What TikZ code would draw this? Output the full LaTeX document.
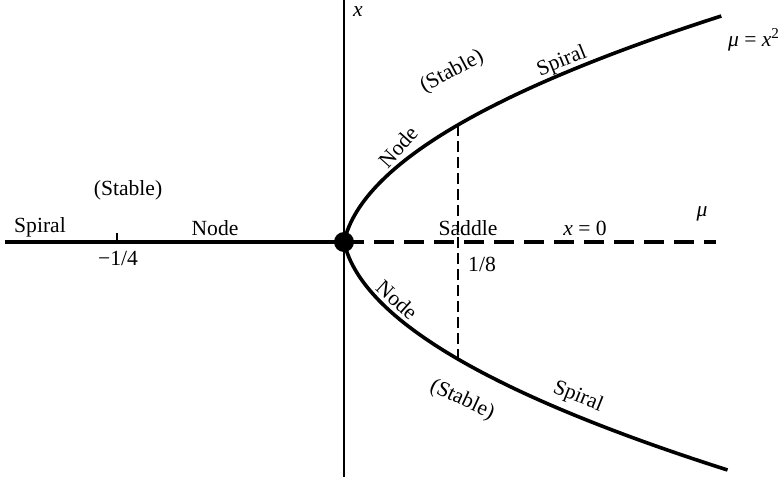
\documentclass[tikz,border=0pt]{standalone}
\usepackage{fontspec}
\setmainfont{Liberation Serif}
\usetikzlibrary{positioning}

\begin{document}
\begin{tikzpicture}[x=0.5pt, y=-0.5pt,
      every node/.style={font=\fontsize{10.8}{12}\selectfont, inner sep=1pt},
      branch/.style={line width=1.8pt},
      axis/.style={line width=0.8pt},
      unstab/.style={line width=1.6pt, dash pattern=on 10pt off 5pt},
      guide/.style={line width=0.6pt, dash pattern=on 5.5pt off 2.5pt}]
    \useasboundingbox (0,0) rectangle (778,477);
    \coordinate (O) at (344,242);
    \coordinate (top) at (344,0);
    \coordinate (bot) at (344,477);
    \coordinate (left) at (5,242);
    \coordinate (right) at (716,242);
    \coordinate (qtick) at (117,242);
    \coordinate (sadtop) at (458,125);
    \coordinate (sadbot) at (458,359);
    % axes and the x = 0 branch
    \draw[axis] (top) -- (bot);
    \draw[branch] (left) -- (O);
    \draw[unstab] (O) -- (right);
    \draw[axis] (qtick) -- ++(0,-9);
    \draw[guide] (sadtop) -- (sadbot);
    % mu = x^2
    \draw[branch] plot[domain=0:226, samples=60] ({344+0.00639*\x*\x+0.2246*\x}, {242-\x});
    \draw[branch] plot[domain=0:228, samples=60] ({344+0.00639*\x*\x+0.2246*\x}, {242+\x});
    \node[circle, fill, inner sep=0pt, minimum size=10pt] (bif) at (O) {};
    % labels
    \node (xlab) at (358,12) {\itshape x};
    \node (mulab) at (702,214) {\itshape μ};
    \node (parab) at (754,40) {\itshape μ\/ \upshape= \itshape x\/\textsuperscript{\upshape 2}};
    \node (xzero) at (585,228) {\itshape x\/ \upshape= 0};
    \node (saddle) at (468,228) {Saddle};
    \node (eighth) at (482,264) {1/8};
    \node (quarter) at (118,258) {−1/4};
    \node (spl) at (40,227) {Spiral};
    \node (stl) at (128,190) {(Stable)};
    \node (ndl) at (215,228) {Node};
    \node[rotate=48] (ndu) at (398,147) {Node};
    \node[rotate=28] (stu) at (452,72) {(Stable)};
    \node[rotate=22] (spu) at (562,62) {Spiral};
    \node[rotate=-42] (ndd) at (397,300) {Node};
    \node[rotate=-25] (std) at (462,400) {(Stable)};
    \node[rotate=-22] (spd) at (578,397) {Spiral};
  \end{tikzpicture}
\end{document}
